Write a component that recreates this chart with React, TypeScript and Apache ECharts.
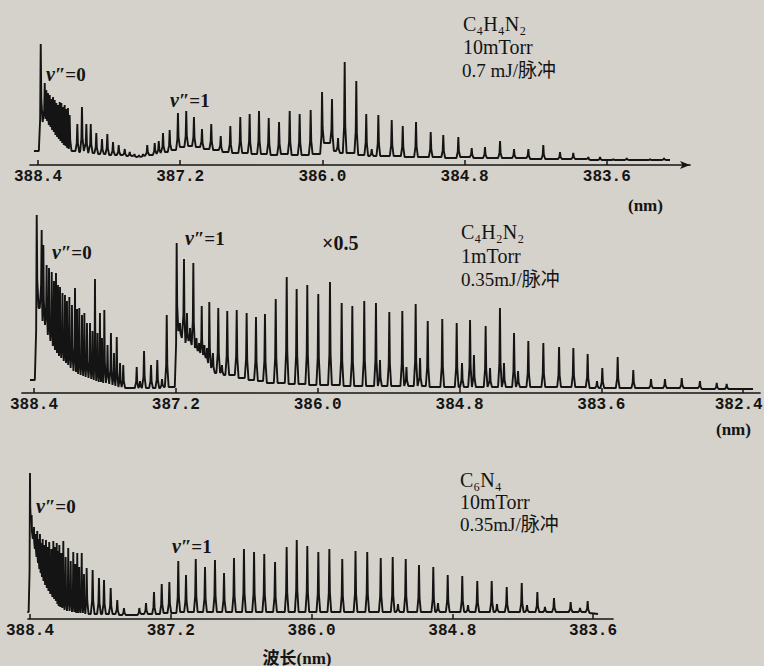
import React, { useEffect, useRef } from "react";
import * as echarts from "echarts";

// ---------- data ----------
const ticksA = [388.4, 387.2, 386.0, 384.8, 383.6];
const ticksB = [388.4, 387.2, 386.0, 384.8, 383.6, 382.4];

// Each peak: [wavelength (nm), peak intensity, intensity of the valley after it]
const c4h4n2Start = [388.434, 14];
const c4h4n2End = [383.067, 5];
const c4h4n2Peaks = [
  [388.377, 121, 43],
  [388.343, 82, 46], [388.330, 75, 44], [388.316, 72, 40], [388.301, 70, 38],
  [388.288, 66, 35], [388.273, 68, 33], [388.259, 65, 30], [388.246, 62, 28],
  [388.231, 60, 26], [388.217, 63, 24], [388.203, 62, 22], [388.189, 58, 20],
  [388.175, 60, 19], [388.161, 56, 17], [388.147, 57, 16], [388.133, 50, 14],
  [388.068, 41, 13], [388.029, 58, 14], [387.992, 41, 12], [387.955, 41, 12],
  [387.908, 32, 11], [387.860, 26, 11], [387.815, 31, 10], [387.767, 23, 10],
  [387.719, 20, 10], [387.668, 16, 9], [387.626, 13, 9], [387.586, 11, 8],
  [387.548, 10, 8], [387.514, 11, 9],
  [387.478, 20, 10], [387.415, 22, 11], [387.381, 24, 12], [387.345, 32, 13],
  [387.289, 35, 15], [387.219, 52, 18], [387.149, 54, 19], [387.084, 48, 18],
  [387.016, 36, 16], [386.938, 41, 15], [386.858, 29, 13], [386.777, 39, 12],
  [386.693, 48, 12], [386.614, 51, 11], [386.535, 54, 11], [386.453, 47, 10],
  [386.366, 43, 11], [386.276, 54, 10], [386.192, 51, 10], [386.099, 55, 11],
  [386.003, 73, 22], [385.919, 66, 14], [385.868, 27, 12], [385.812, 103, 12],
  [385.714, 84, 10], [385.630, 51, 9], [385.584, 16, 9], [385.528, 50, 9],
  [385.415, 45, 9], [385.322, 39, 8], [385.210, 43, 8], [385.086, 33, 8],
  [384.980, 30, 7], [384.853, 28, 8], [384.740, 17, 7], [384.628, 18, 7],
  [384.501, 24, 7], [384.383, 16, 7], [384.262, 16, 6], [384.136, 20, 6],
  [383.995, 13, 6], [383.883, 12, 6], [383.756, 8, 5], [383.657, 8, 5],
  [383.545, 6, 5], [383.432, 7, 5], [383.320, 5, 5], [383.235, 6, 5],
  [383.117, 7, 5],
];

const c4h2n2Start = [388.434, 13];
const c4h2n2End = [382.317, 4];
const c4h2n2Peaks = [
  [388.377, 178, 85], [388.335, 163, 72], [388.321, 148, 68], [388.293, 128, 58],
  [388.273, 125, 52], [388.250, 121, 47], [388.231, 112, 43], [388.214, 120, 40],
  [388.197, 108, 37], [388.180, 106, 35], [388.159, 100, 32], [388.138, 98, 30],
  [388.121, 92, 28], [388.101, 96, 25], [388.079, 88, 22], [388.053, 105, 21],
  [388.036, 84, 19], [388.017, 85, 18], [387.994, 78, 17], [387.974, 80, 16],
  [387.952, 70, 15], [387.926, 70, 14], [387.905, 62, 13], [387.884, 114, 12],
  [387.863, 60, 11], [387.842, 80, 11], [387.825, 55, 10], [387.805, 83, 10],
  [387.778, 48, 9], [387.749, 60, 8], [387.723, 40, 7], [387.700, 56, 6],
  [387.672, 30, 6], [387.645, 28, 5],
  [387.531, 26, 5], [387.503, 12, 5], [387.469, 42, 5], [387.410, 28, 5],
  [387.357, 33, 5], [387.317, 14, 6], [387.277, 78, 6],
  [387.193, 150, 62], [387.165, 70, 55], [387.131, 134, 50], [387.106, 80, 52],
  [387.080, 65, 48], [387.052, 130, 45], [387.025, 55, 42], [387.004, 50, 40],
  [386.981, 87, 38], [386.958, 48, 35], [386.936, 45, 30], [386.917, 91, 25],
  [386.886, 40, 20], [386.841, 85, 20], [386.810, 28, 18], [386.765, 82, 18],
  [386.685, 83, 15], [386.601, 80, 13], [386.522, 76, 12], [386.446, 79, 10],
  [386.355, 94, 10], [386.262, 116, 9], [386.178, 104, 9], [386.088, 108, 8],
  [385.995, 99, 8], [385.896, 111, 8], [385.797, 90, 7], [385.707, 87, 7],
  [385.606, 92, 7], [385.507, 90, 7], [385.473, 33, 7], [385.394, 81, 7],
  [385.284, 82, 7], [385.249, 26, 7], [385.171, 89, 7], [385.134, 35, 7],
  [385.069, 72, 6], [384.946, 74, 6], [384.824, 70, 6], [384.779, 30, 6],
  [384.711, 73, 6], [384.678, 38, 6], [384.579, 67, 6], [384.542, 25, 6],
  [384.458, 85, 6], [384.424, 30, 6], [384.339, 60, 6], [384.305, 22, 6],
  [384.218, 52, 6], [384.091, 50, 6], [383.958, 46, 6], [383.837, 45, 6],
  [383.716, 39, 5], [383.637, 12, 5], [383.592, 25, 5], [383.462, 36, 5],
  [383.330, 23, 5], [383.180, 14, 5], [383.062, 14, 5], [382.920, 15, 5],
  [382.766, 12, 4], [382.624, 10, 4], [382.540, 9, 4],
];

const c6n4Start = [388.423, 7];
const c6n4End = [383.558, 5];
const c6n4Peaks = [
  [388.400, 146, 98], [388.386, 104, 80], [388.366, 92, 70], [388.351, 85, 62],
  [388.338, 88, 56], [388.326, 80, 50], [388.315, 85, 46], [388.304, 76, 42],
  [388.292, 80, 38], [388.278, 74, 34], [388.264, 79, 31], [388.249, 72, 28],
  [388.236, 77, 25], [388.218, 70, 22], [388.201, 78, 20], [388.187, 72, 18],
  [388.172, 76, 15], [388.161, 68, 13], [388.150, 74, 12], [388.133, 66, 11],
  [388.116, 78, 9], [388.096, 62, 8], [388.074, 71, 8], [388.053, 58, 7],
  [388.031, 67, 7], [388.014, 55, 6], [387.997, 66, 6], [387.980, 52, 6],
  [387.959, 66, 6], [387.940, 45, 5], [387.917, 51, 5], [387.866, 49, 5],
  [387.812, 41, 5], [387.769, 39, 5], [387.712, 31, 5], [387.656, 19, 4],
  [387.599, 11, 4],
  [387.468, 11, 5], [387.411, 16, 5], [387.343, 27, 5], [387.277, 35, 6],
  [387.212, 37, 6], [387.136, 58, 7], [387.070, 44, 7], [386.987, 60, 7],
  [386.908, 52, 7], [386.823, 59, 7], [386.746, 46, 7], [386.661, 61, 7],
  [386.576, 70, 7], [386.490, 67, 7], [386.403, 65, 7], [386.311, 57, 7],
  [386.212, 72, 7], [386.126, 79, 7], [386.036, 73, 7], [385.942, 67, 7],
  [385.848, 70, 7], [385.738, 60, 7], [385.625, 68, 7], [385.525, 67, 7],
  [385.410, 61, 7], [385.308, 62, 7], [385.263, 15, 7], [385.197, 60, 7],
  [385.084, 54, 7], [384.962, 52, 7], [384.922, 16, 7], [384.839, 44, 7],
  [384.715, 43, 7], [384.666, 14, 7], [384.587, 38, 7], [384.464, 38, 7],
  [384.419, 15, 7], [384.336, 32, 7], [384.208, 36, 7], [384.163, 14, 7],
  [384.075, 27, 7], [384.010, 12, 7], [383.933, 21, 7], [383.791, 17, 7],
  [383.711, 11, 7], [383.646, 18, 6],
];

// ---------- style ----------
const INK = "#141414";
const BG = "#d4d2ca";
const HW = 0.016; // half base width of a line, nm

function buildTrace(start: number[], peaks: number[][], end: number[]) {
  const pts: number[][] = [[start[0], start[1]]];
  let prevV = start[1];
  for (let i = 0; i < peaks.length; i++) {
    const [w, h, v] = peaks[i];
    const left = i > 0 ? peaks[i - 1][0] : start[0];
    const right = i < peaks.length - 1 ? peaks[i + 1][0] : end[0];
    const hl = Math.min(HW, (left - w) / 2);
    const hr = Math.min(HW, (w - right) / 2);
    pts.push([w + hl, prevV]);
    pts.push([w + hl * 0.3, prevV + (h - prevV) * 0.3]);
    pts.push([w, h]);
    pts.push([w - hr * 0.3, v + (h - v) * 0.3]);
    pts.push([w - hr, v]);
    prevV = v;
  }
  pts.push([end[0], end[1]]);
  return pts;
}

const panels = [
  { start: c4h4n2Start, peaks: c4h4n2Peaks, end: c4h4n2End, ticks: ticksA,
    left: 30, top: 40, width: 660, height: 125, max: 388.4675, min: 382.898, arrow: true },
  { start: c4h2n2Start, peaks: c4h2n2Peaks, end: c4h2n2End, ticks: ticksB,
    left: 22, top: 205, width: 738, height: 188, max: 388.5015, min: 382.258, arrow: false },
  { start: c6n4Start, peaks: c6n4Peaks, end: c6n4End, ticks: ticksA,
    left: 28, top: 465, width: 585, height: 154, max: 388.417, min: 383.43, arrow: false },
];

const SERIF = "'Liberation Serif', 'DejaVu Serif', 'Noto Sans CJK SC', serif";
const CJK = "'Liberation Serif', 'Noto Sans CJK SC', serif";

function txt(x: number, y: number, text: string, size: number, extra: any = {}) {
  return {
    type: "text",
    x, y,
    silent: true,
    style: {
      text,
      fill: INK,
      fontSize: size,
      fontFamily: extra.fontFamily || SERIF,
      fontWeight: extra.fontWeight || "normal",
      align: extra.align || "left",
      verticalAlign: "middle",
      textAlign: extra.align || "left",
      textVerticalAlign: "middle",
      rich: extra.rich,
    },
  };
}

const vRich = {
  i: { fontFamily: "'Liberation Serif', serif", fontStyle: "italic", fontWeight: "bold", fontSize: 20, fill: INK },
  b: { fontFamily: "'Liberation Serif', serif", fontWeight: "bold", fontSize: 19, fill: INK },
};

const labelFont = {
  fontFamily: "'Liberation Mono', monospace",
  fontWeight: "bold",
  fontSize: 16,
  color: INK,
};

export default function App() {
  const ref = useRef<HTMLDivElement>(null);
  useEffect(() => {
    if (!ref.current) return;
    const chart = echarts.init(ref.current, undefined, { renderer: "svg" });
    const option: any = {
      animation: false,
      backgroundColor: BG,
      grid: panels.map((p) => ({
        left: p.left, top: p.top, width: p.width, height: p.height,
        containLabel: false, outerBoundsMode: "none",
      })),
      xAxis: panels.map((p, i) => ({
        gridIndex: i,
        type: "value",
        inverse: true,
        min: p.min,
        max: p.max,
        axisLine: {
          show: true,
          onZero: false,
          symbol: p.arrow ? ["none", "arrow"] : ["none", "none"],
          symbolSize: [6, 10],
          lineStyle: { color: INK, width: 1.7 },
        },
        axisTick: { show: true, inside: true, length: 5, customValues: p.ticks, lineStyle: { color: INK, width: 1.5 } },
        axisLabel: {
          show: true,
          customValues: p.ticks,
          formatter: (v: number) => (v < 383 ? "{e|" + v.toFixed(1) + "}" : "{n|" + v.toFixed(1) + "}"),
          margin: 4,
          ...labelFont,
          hideOverlap: false,
          rich: {
            n: { ...labelFont },
            e: { ...labelFont, padding: [0, 9, 0, 0] },
          },
        },
        splitLine: { show: false },
      })),
      yAxis: panels.map((p, i) => ({ gridIndex: i, type: "value", min: 0, max: p.height, show: false })),
      series: panels.map((p, i) => ({
        type: "line",
        xAxisIndex: i,
        yAxisIndex: i,
        data: buildTrace(p.start, p.peaks, p.end),
        showSymbol: false,
        symbol: "none",
        silent: true,
        lineStyle: { color: INK, width: 1.9 },
      })),
      graphic: [
        txt(463, 24, "C₄H₄N₂", 20),
        txt(463, 47, "10mTorr", 20),
        txt(462, 70, "0.7 mJ/脉冲", 19, { fontFamily: CJK }),
        txt(628, 205, "(nm)", 17, { fontWeight: "bold" }),
        txt(461, 232, "C₄H₂N₂", 20),
        txt(461, 256, "1mTorr", 20),
        txt(461, 279, "0.35mJ/脉冲", 19, { fontFamily: CJK }),
        txt(716, 429, "(nm)", 17, { fontWeight: "bold" }),
        txt(460, 480, "C₆N₄", 20),
        txt(460, 502, "10mTorr", 20),
        txt(460, 524, "0.35mJ/脉冲", 19, { fontFamily: CJK }),
        txt(297, 658, "波长(nm)", 17, { fontWeight: "bold", align: "center", fontFamily: CJK }),
        txt(46, 74, "{i|v}{b|″=0}", 19, { rich: vRich }),
        txt(170, 100, "{i|v}{b|″=1}", 19, { rich: vRich }),
        txt(52, 252, "{i|v}{b|″=0}", 19, { rich: vRich }),
        txt(185, 238, "{i|v}{b|″=1}", 19, { rich: vRich }),
        txt(322, 243, "×0.5", 20, { fontWeight: "bold" }),
        txt(36, 506, "{i|v}{b|″=0}", 19, { rich: vRich }),
        txt(172, 546, "{i|v}{b|″=1}", 19, { rich: vRich }),
      ],
    };
    chart.setOption(option);
    return () => chart.dispose();
  }, []);
  return (
    <div
      ref={ref}
      style={{ position: "fixed", left: 0, top: 0, width: 764, height: 666, background: BG }}
    />
  );
}
